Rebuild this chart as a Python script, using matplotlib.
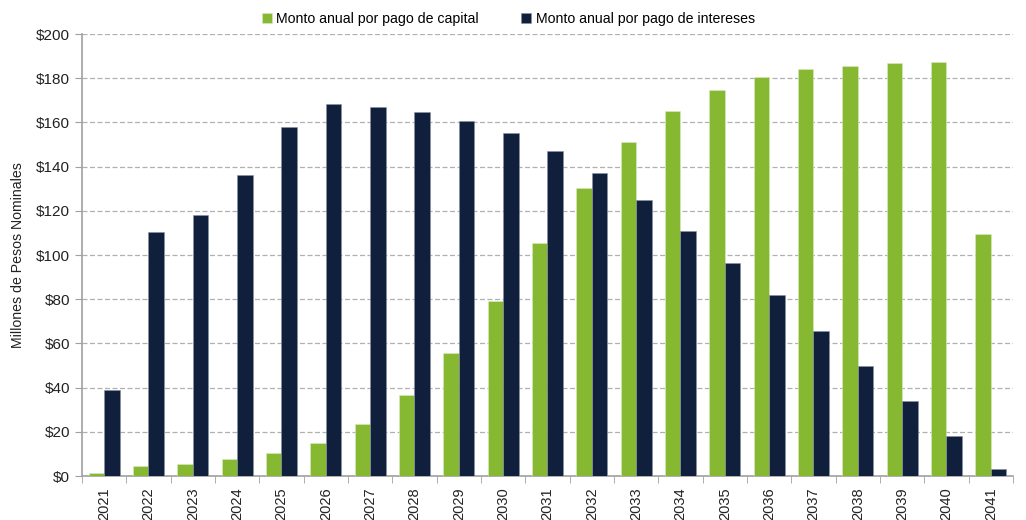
import numpy as np
import matplotlib.pyplot as plt
from matplotlib.ticker import FuncFormatter, MultipleLocator

plt.rcParams['font.family'] = ['Liberation Sans Narrow', 'Liberation Sans', 'DejaVu Sans']

# Datos (millones de pesos nominales)
anios = [str(a) for a in range(2021, 2042)]
capital = [1.5, 4.5, 5.5, 7.5, 10.3, 15, 23.5, 36.5, 55.5, 79, 105.5,
           130.5, 151, 165, 174.5, 180.5, 184, 185.5, 187, 187.5, 109.5]
intereses = [39, 110.5, 118, 136, 158, 168.3, 167, 164.8, 160.5, 155, 147,
             137, 125, 111, 96.5, 82, 65.5, 50, 34, 18, 3]

verde = '#86b831'
azul = '#0f1f3c'

fig = plt.figure(figsize=(10.26, 5.2), dpi=100)
ax = fig.add_axes([0.0799, 0.0846, 0.9074, 0.85])

x = np.arange(len(anios))
w = 0.35
ax.bar(x - w / 2, capital, w, color=verde, edgecolor='#d9ecc0', linewidth=0.4,
       label='Monto anual por pago de capital', zorder=3)
ax.bar(x + w / 2, intereses, w, color=azul, edgecolor='#8a93a3', linewidth=0.4,
       label='Monto anual por pago de intereses', zorder=3)

ax.set_xlim(-0.5, len(anios) - 0.5)
ax.set_ylim(0, 200)
ax.yaxis.set_major_locator(MultipleLocator(20))
ax.yaxis.set_major_formatter(FuncFormatter(lambda v, p: f'${v:.0f}'))
ax.grid(axis='y', linestyle=(0, (4, 2)), color='#b0b0b0', linewidth=0.9, zorder=0)

ax.set_xticks(x)
ax.set_xticklabels(anios, rotation=90)
ax.set_xticks(np.arange(-0.5, len(anios)), minor=True)
ax.tick_params(axis='x', which='major', length=0, pad=8, labelsize=10.5, colors='#222222')
ax.tick_params(axis='x', which='minor', length=5, color='#a0a0a0', direction='out')
ax.tick_params(axis='y', length=5, color='#a0a0a0', labelsize=11, labelcolor='#222222')

for s in ['top', 'right']:
    ax.spines[s].set_visible(False)
for s in ['left', 'bottom']:
    ax.spines[s].set_color('#a0a0a0')
    ax.spines[s].set_linewidth(1.2)

ax.set_ylabel('Millones de Pesos Nominales', fontsize=10.2, color='#222222', labelpad=8)

ax.legend(loc='lower center', bbox_to_anchor=(0.458, 1.0), ncol=2, frameon=False,
          fontsize=10.2, handlelength=0.7, handleheight=0.7, handletextpad=0.3,
          columnspacing=3.0, borderaxespad=0.2)

fig.savefig('out.png', dpi=100)
